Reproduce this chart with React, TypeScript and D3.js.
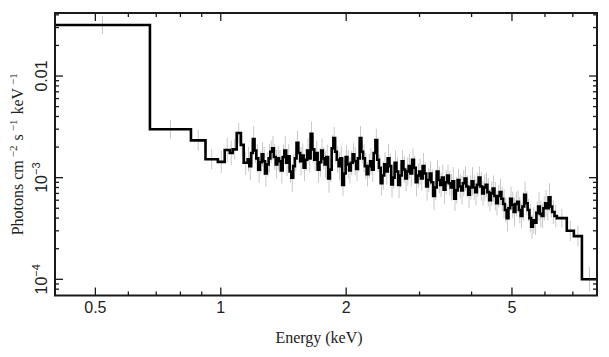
import React from "react";
import * as d3 from "d3";

// Bin edges (keV)
const binEdges: number[] = [
  0.4, 0.676, 0.848, 0.919, 0.984, 1.022, 1.051, 1.068, 1.092, 1.117, 1.135,
  1.160, 1.171, 1.183, 1.194, 1.205, 1.217, 1.230, 1.242, 1.254, 1.265, 1.277, 1.290, 1.303, 1.315, 1.328, 1.341, 1.355, 1.367, 1.380, 1.394,
  1.408, 1.421, 1.435, 1.449, 1.463, 1.477, 1.492, 1.506, 1.520, 1.535, 1.551, 1.566, 1.581, 1.596, 1.612, 1.627, 1.643, 1.659, 1.676, 1.692,
  1.708, 1.725, 1.742, 1.758, 1.775, 1.792, 1.810, 1.828, 1.846, 1.863, 1.881, 1.899, 1.918, 1.937, 1.956, 1.975, 1.994, 2.013, 2.033, 2.052,
  2.072, 2.092, 2.113, 2.134, 2.155, 2.175, 2.196, 2.218, 2.240, 2.261, 2.283, 2.305, 2.328, 2.351, 2.374, 2.397, 2.420, 2.443, 2.467, 2.491,
  2.516, 2.540, 2.565, 2.589, 2.614, 2.640, 2.666, 2.692, 2.718, 2.744, 2.771, 2.798, 2.825, 2.852, 2.880, 2.908, 2.937, 2.965, 2.994, 3.023,
  3.052, 3.082, 3.112, 3.142, 3.173, 3.203, 3.234, 3.266, 3.298, 3.330, 3.362, 3.395, 3.428, 3.461, 3.494, 3.528, 3.563, 3.597, 3.632, 3.667,
  3.703, 3.739, 3.776, 3.812, 3.849, 3.887, 3.925, 3.963, 4.001, 4.040, 4.080, 4.119, 4.159, 4.200, 4.241, 4.282, 4.323, 4.365, 4.408, 4.451,
  4.494, 4.538, 4.582, 4.626, 4.671, 4.716, 4.762, 4.809, 4.856, 4.903, 4.950, 4.998, 5.047, 5.096, 5.146, 5.196, 5.246, 5.297, 5.349, 5.401,
  5.453, 5.506, 5.560, 5.614, 5.668, 5.723, 5.779, 5.835, 5.892, 5.949, 6.007, 6.065, 6.124, 6.184, 6.244, 6.327, 6.410,
  6.77, 7.04, 7.36, 8.0,
];

// Flux per bin, in units of 1e-3 photons cm^-2 s^-1 keV^-1
const fluxMilli: number[] = [
  31.8, 3.0, 2.33, 1.52, 1.43, 1.87, 1.75, 1.9, 2.75, 2.1, 1.4,
  1.52, 1.30, 1.75, 2.40, 1.85, 1.55, 1.20, 1.42, 1.70, 1.45,
  1.10, 1.35, 1.55, 1.80, 1.95, 1.60, 1.35, 1.55, 1.45, 1.18,
  1.60, 1.85, 1.40, 1.62, 1.15, 1.00, 1.30, 1.55, 2.20, 1.75,
  1.45, 1.65, 1.25, 1.50, 1.85, 1.55, 2.70, 1.90, 1.50, 1.75,
  1.20, 1.42, 1.85, 1.55, 1.35, 1.60, 0.98, 1.20, 1.95, 2.45,
  1.80, 1.50, 1.30, 1.55, 0.85, 1.10, 1.60, 1.35, 1.18, 1.40,
  1.70, 1.45, 1.22, 1.55, 2.45, 1.80, 1.55, 1.30, 1.08, 1.30,
  1.45, 1.20, 1.75, 2.35, 1.50, 1.25, 0.88, 1.05, 1.35, 1.15,
  1.55, 1.30, 0.86, 1.00, 1.40, 1.15, 0.85, 1.05, 1.45, 1.20,
  0.98, 1.15, 1.30, 1.10, 1.50, 1.25, 0.90, 1.05, 1.15, 0.98,
  1.30, 1.10, 0.82, 0.95, 1.10, 0.90, 0.66, 0.80, 1.15, 0.95,
  0.85, 1.00, 0.76, 0.90, 1.05, 0.88, 0.80, 0.92, 0.62, 0.75,
  0.95, 0.82, 0.75, 0.88, 0.98, 0.82, 0.68, 0.80, 0.92, 0.80,
  0.72, 0.85, 1.00, 0.82, 0.70, 0.80, 0.85, 0.72, 0.60, 0.70,
  0.78, 0.66, 0.56, 0.66, 0.72, 0.62, 0.55, 0.48, 0.40, 0.50,
  0.62, 0.54, 0.46, 0.55, 0.58, 0.48, 0.42, 0.52, 0.68, 0.56,
  0.48, 0.40, 0.33, 0.38, 0.36, 0.45, 0.52, 0.44, 0.42, 0.50,
  0.56, 0.50, 0.64, 0.52, 0.46, 0.42,
  0.40, 0.30, 0.266, 0.10,
];

// Half-length of error bars in dex
const errDex: number[] = [
  0.09, 0.09, 0.1, 0.1, 0.11, 0.12, 0.12, 0.1, 0.1, 0.12, 0.12,
  0.12, 0.14, 0.11, 0.13, 0.12, 0.14, 0.13, 0.11, 0.12, 0.14,
  0.13, 0.12, 0.14, 0.11, 0.12, 0.13, 0.14, 0.12, 0.11, 0.13,
  0.12, 0.14, 0.13, 0.12, 0.11, 0.14, 0.12, 0.13, 0.12, 0.11,
  0.14, 0.12, 0.13, 0.11, 0.12, 0.14, 0.12, 0.13, 0.11, 0.12,
  0.13, 0.14, 0.12, 0.11, 0.13, 0.12, 0.14, 0.12, 0.13, 0.11,
  0.12, 0.13, 0.14, 0.12, 0.11, 0.13, 0.12, 0.14, 0.13, 0.12,
  0.11, 0.14, 0.12, 0.13, 0.12, 0.11, 0.14, 0.13, 0.12, 0.12,
  0.13, 0.12, 0.14, 0.11, 0.12, 0.13, 0.12, 0.14, 0.12, 0.13,
  0.14, 0.12, 0.13, 0.11, 0.12, 0.14, 0.13, 0.12, 0.11, 0.13,
  0.12, 0.14, 0.12, 0.13, 0.11, 0.12, 0.14, 0.12, 0.13, 0.12,
  0.13, 0.11, 0.14, 0.12, 0.12, 0.13, 0.14, 0.12, 0.11, 0.13,
  0.12, 0.13, 0.14, 0.12, 0.11, 0.12, 0.13, 0.14, 0.12, 0.13,
  0.11, 0.12, 0.14, 0.13, 0.12, 0.11, 0.13, 0.12, 0.14, 0.12,
  0.13, 0.12, 0.11, 0.14, 0.12, 0.13, 0.12, 0.14, 0.11, 0.12,
  0.13, 0.14, 0.12, 0.11, 0.13, 0.12, 0.14, 0.12, 0.13, 0.11,
  0.12, 0.13, 0.14, 0.12, 0.11, 0.13, 0.12, 0.14, 0.13, 0.12,
  0.11, 0.14, 0.12, 0.13, 0.12, 0.11, 0.14, 0.13, 0.12, 0.12,
  0.13, 0.12, 0.14, 0.11, 0.12, 0.11,
  0.09, 0.1, 0.1, 0.12,
];

const xMajor = [0.5, 1, 2, 5];
const xMajorLabels = ["0.5", "1", "2", "5"];
const xMinor = [0.6, 0.7, 0.8, 0.9, 3, 4, 6, 7];
const yMajor = [1e-4, 1e-3, 1e-2];
const yMinor = [
  8e-5, 9e-5, 2e-4, 3e-4, 4e-4, 5e-4, 6e-4, 7e-4, 8e-4, 9e-4,
  2e-3, 3e-3, 4e-3, 5e-3, 6e-3, 7e-3, 8e-3, 9e-3, 2e-2, 3e-2, 4e-2,
];

const W = 609;
const H = 357;
const L = 55, R = 597, T = 13, B = 295.5;

export default function App() {
  const x = d3.scaleLog().domain([0.4, 8]).range([L, R]);
  const y = d3.scaleLog().domain([6.93e-5, 0.0417]).range([B, T]);

  const pts: [number, number][] = [];
  fluxMilli.forEach((f, i) => {
    const v = f * 1e-3;
    pts.push([x(binEdges[i]), y(v)]);
    pts.push([x(binEdges[i + 1]), y(v)]);
  });
  const stepPath = d3.line()(pts) || "";

  const sans = "'Liberation Sans', Arial, Helvetica, sans-serif";
  const serif = "'Liberation Serif', 'Times New Roman', serif";
  const axisColor = "#1a1a1a";
  const majorLen = 8, minorLen = 4;

  return (
    <svg width={W} height={H} style={{ position: "absolute", left: 0, top: 0 }}>
      <rect x={0} y={0} width={W} height={H} fill="#fff" />
      <defs>
        <clipPath id="plotclip">
          <rect x={L} y={T} width={R - L} height={B - T} />
        </clipPath>
      </defs>
      <g clipPath="url(#plotclip)">
        {fluxMilli.map((f, i) => {
          const cx = x(Math.sqrt(binEdges[i] * binEdges[i + 1]));
          const v = f * 1e-3;
          const e = errDex[i];
          return (
            <line key={"e" + i} x1={cx} x2={cx} y1={y(v * Math.pow(10, e))} y2={y(v / Math.pow(10, e))}
              stroke="#c8c8c8" strokeWidth={1} />
          );
        })}
        <path d={stepPath} fill="none" stroke="#000" strokeWidth={2.6} strokeLinejoin="miter" />
      </g>
      {xMajor.map((v, i) => (
        <g key={"xm" + i}>
          <line x1={x(v)} x2={x(v)} y1={B} y2={B - majorLen} stroke={axisColor} strokeWidth={1.3} />
          <line x1={x(v)} x2={x(v)} y1={T} y2={T + majorLen} stroke={axisColor} strokeWidth={1.3} />
          <text x={x(v)} y={313} textAnchor="middle" fontFamily={sans} fontSize={16} fill="#222">
            {xMajorLabels[i]}
          </text>
        </g>
      ))}
      {xMinor.map((v, i) => (
        <g key={"xn" + i}>
          <line x1={x(v)} x2={x(v)} y1={B} y2={B - minorLen} stroke={axisColor} strokeWidth={1.3} />
          <line x1={x(v)} x2={x(v)} y1={T} y2={T + minorLen} stroke={axisColor} strokeWidth={1.3} />
        </g>
      ))}
      {yMajor.map((v, i) => (
        <g key={"ym" + i}>
          <line x1={L} x2={L + majorLen} y1={y(v)} y2={y(v)} stroke={axisColor} strokeWidth={1.3} />
          <line x1={R} x2={R - majorLen} y1={y(v)} y2={y(v)} stroke={axisColor} strokeWidth={1.3} />
        </g>
      ))}
      {yMinor.map((v, i) => (
        <g key={"yn" + i}>
          <line x1={L} x2={L + minorLen} y1={y(v)} y2={y(v)} stroke={axisColor} strokeWidth={1.3} />
          <line x1={R} x2={R - minorLen} y1={y(v)} y2={y(v)} stroke={axisColor} strokeWidth={1.3} />
        </g>
      ))}
      <text transform={`translate(47,${y(1e-2)}) rotate(-90)`} textAnchor="middle" fontFamily={sans} fontSize={16} fill="#222">0.01</text>
      <text transform={`translate(47,${y(1e-3)}) rotate(-90)`} textAnchor="middle" fontFamily={sans} fontSize={16} fill="#222">
        10<tspan fontSize={11} dy={-7}>−3</tspan>
      </text>
      <text transform={`translate(47,${y(1e-4)}) rotate(-90)`} textAnchor="middle" fontFamily={sans} fontSize={16} fill="#222">
        10<tspan fontSize={11} dy={-7}>−4</tspan>
      </text>
      <rect x={L} y={T} width={R - L} height={B - T} fill="none" stroke={axisColor} strokeWidth={2} />
      <text x={319} y={343} textAnchor="middle" fontFamily={serif} fontSize={16} fill="#222">Energy (keV)</text>
      <text transform={`translate(23,${(T + B) / 2}) rotate(-90)`} textAnchor="middle" fontFamily={serif} fontSize={16} fill="#222">
        Photons<tspan dx={4}>cm</tspan><tspan fontSize={11} dx={3} dy={-6}>−2</tspan>
        <tspan dx={5} dy={6}>s</tspan><tspan fontSize={11} dx={3} dy={-6}>−1</tspan>
        <tspan dx={5} dy={6}>keV</tspan><tspan fontSize={11} dx={3} dy={-6}>−1</tspan>
      </text>
    </svg>
  );
}
